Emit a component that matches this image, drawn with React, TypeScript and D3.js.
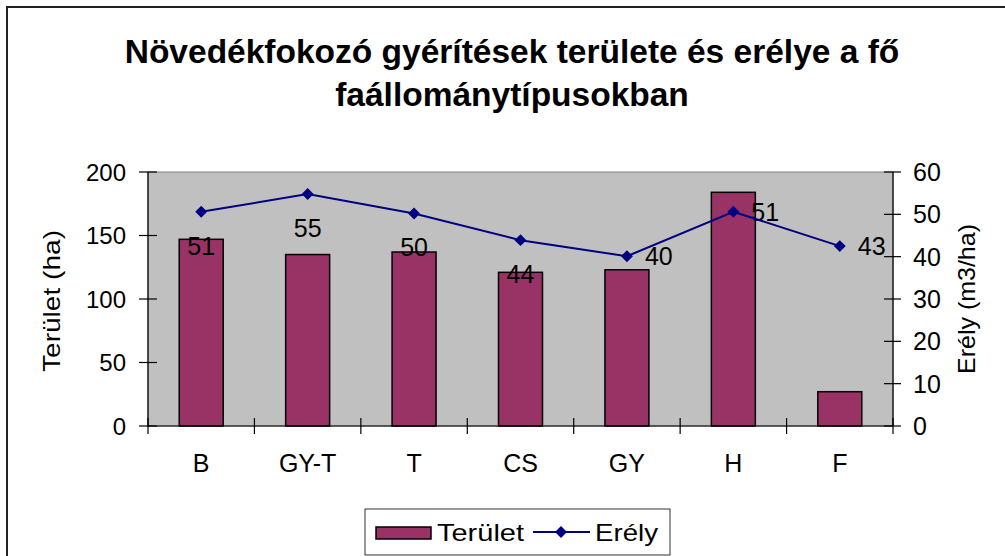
import * as d3 from "d3";
import { useEffect, useRef } from "react";

const categories = ["B", "GY-T", "T", "CS", "GY", "H", "F"];
const terulet = [147, 135, 137, 121, 123, 184, 27];
const erely = [50.6, 54.8, 50.2, 43.9, 40.1, 50.6, 42.5];
const leftTicks = [0, 50, 100, 150, 200];
const rightTicks = [0, 10, 20, 30, 40, 50, 60];
// where each data label sits relative to its marker
const labelPlace = ["below", "below", "below", "below", "right", "right", "right"];

const width = 1005;
const height = 556;
const plotLeft = 148;
const plotRight = 893;
const plotTop = 172;
const plotBottom = 426;
const font = "'Liberation Sans', Arial, sans-serif";

export default function App() {
  const ref = useRef<SVGSVGElement>(null);

  useEffect(() => {
    const svg = d3.select(ref.current);
    svg.selectAll("*").remove();

    const x = d3.scaleBand().domain(categories).range([plotLeft, plotRight]).padding(0);
    const yL = d3.scaleLinear().domain([0, 200]).range([plotBottom, plotTop]);
    const yR = d3.scaleLinear().domain([0, 60]).range([plotBottom, plotTop]);
    const barW = x.bandwidth() / 2.42;
    const cx = (c: string) => (x(c) as number) + x.bandwidth() / 2;

    // outer chart border
    svg
      .append("rect")
      .attr("x", 7)
      .attr("y", 7)
      .attr("width", width + 20)
      .attr("height", height + 20)
      .attr("fill", "white")
      .attr("stroke", "#222")
      .attr("stroke-width", 2);

    // title
    const title = svg
      .append("text")
      .attr("text-anchor", "middle")
      .attr("font-family", font)
      .attr("font-weight", "bold")
      .attr("font-size", 33.5);
    title.append("tspan").attr("x", 512).attr("y", 63).text("Növedékfokozó gyérítések területe és erélye a fő");
    title.append("tspan").attr("x", 512).attr("y", 106).text("faállománytípusokban");

    // plot area
    svg
      .append("rect")
      .attr("x", plotLeft)
      .attr("y", plotTop)
      .attr("width", plotRight - plotLeft)
      .attr("height", plotBottom - plotTop)
      .attr("fill", "#C0C0C0")
      .attr("stroke", "#808080")
      .attr("stroke-width", 1);

    // bars
    svg
      .selectAll(".bar")
      .data(terulet)
      .enter()
      .append("rect")
      .attr("class", "bar")
      .attr("x", (d, i) => cx(categories[i]) - barW / 2)
      .attr("y", (d) => yL(d))
      .attr("width", barW)
      .attr("height", (d) => plotBottom - yL(d))
      .attr("fill", "#993366")
      .attr("stroke", "black")
      .attr("stroke-width", 1.5);

    // axes
    const axisG = svg.append("g").attr("stroke", "black").attr("stroke-width", 1.2);
    axisG.append("line").attr("x1", plotLeft).attr("x2", plotLeft).attr("y1", plotTop).attr("y2", plotBottom);
    axisG.append("line").attr("x1", plotRight).attr("x2", plotRight).attr("y1", plotTop).attr("y2", plotBottom);
    axisG.append("line").attr("x1", plotLeft).attr("x2", plotRight).attr("y1", plotBottom).attr("y2", plotBottom);

    axisG
      .selectAll(".lt")
      .data(leftTicks)
      .enter()
      .append("line")
      .attr("x1", plotLeft - 9)
      .attr("x2", plotLeft + 9)
      .attr("y1", (d) => yL(d))
      .attr("y2", (d) => yL(d));
    axisG
      .selectAll(".rt")
      .data(rightTicks)
      .enter()
      .append("line")
      .attr("x1", plotRight - 9)
      .attr("x2", plotRight + 8)
      .attr("y1", (d) => yR(d))
      .attr("y2", (d) => yR(d));
    const catEdges = categories.map((c) => x(c) as number).concat([plotRight]);
    axisG
      .selectAll(".ct")
      .data(catEdges)
      .enter()
      .append("line")
      .attr("x1", (d) => d)
      .attr("x2", (d) => d)
      .attr("y1", plotBottom - 8)
      .attr("y2", plotBottom + 8);

    const labels = svg.append("g").attr("font-family", font).attr("font-size", 24).attr("fill", "black");
    labels
      .selectAll(".ll")
      .data(leftTicks)
      .enter()
      .append("text")
      .attr("x", 126)
      .attr("y", (d) => yL(d))
      .attr("dy", "0.36em")
      .attr("text-anchor", "end")
      .text((d) => d);
    labels
      .selectAll(".rl")
      .data(rightTicks)
      .enter()
      .append("text")
      .attr("x", 913)
      .attr("y", (d) => yR(d))
      .attr("dy", "0.36em")
      .attr("font-size", 25)
      .text((d) => d);
    labels
      .selectAll(".cl")
      .data(categories)
      .enter()
      .append("text")
      .attr("x", (d) => cx(d))
      .attr("y", 472)
      .attr("text-anchor", "middle")
      .attr("font-size", 25)
      .text((d) => d);

    labels
      .append("text")
      .attr("transform", "translate(60,301) rotate(-90)")
      .attr("text-anchor", "middle")
      .attr("textLength", 142)
      .attr("lengthAdjust", "spacingAndGlyphs")
      .text("Terület (ha)");
    labels
      .append("text")
      .attr("transform", "translate(975,299) rotate(-90)")
      .attr("text-anchor", "middle")
      .attr("textLength", 150)
      .attr("lengthAdjust", "spacingAndGlyphs")
      .text("Erély (m3/ha)");

    // line series
    const line = d3
      .line<number>()
      .x((d, i) => cx(categories[i]))
      .y((d) => yR(d));
    svg
      .append("path")
      .datum(erely)
      .attr("d", line)
      .attr("fill", "none")
      .attr("stroke", "#000080")
      .attr("stroke-width", 2);

    const diamond = d3.symbol().type(d3.symbolDiamond2).size(90);
    svg
      .selectAll(".mk")
      .data(erely)
      .enter()
      .append("path")
      .attr("transform", (d, i) => `translate(${cx(categories[i])},${yR(d)})`)
      .attr("d", diamond)
      .attr("fill", "#000080");

    labels
      .selectAll(".dl")
      .data(erely)
      .enter()
      .append("text")
      .attr("x", (d, i) => (labelPlace[i] === "right" ? cx(categories[i]) + 18 : cx(categories[i])))
      .attr("y", (d, i) => (labelPlace[i] === "right" ? yR(d) : yR(d) + 34))
      .attr("dy", "0.36em")
      .attr("font-size", 25)
      .attr("text-anchor", (d, i) => (labelPlace[i] === "right" ? "start" : "middle"))
      .text((d) => Math.round(d));

    // legend
    const lg = svg.append("g");
    lg.append("rect")
      .attr("x", 365)
      .attr("y", 509)
      .attr("width", 305)
      .attr("height", 46)
      .attr("fill", "white")
      .attr("stroke", "#333")
      .attr("stroke-width", 1);
    lg.append("rect")
      .attr("x", 376)
      .attr("y", 527)
      .attr("width", 55)
      .attr("height", 12)
      .attr("fill", "#993366")
      .attr("stroke", "black")
      .attr("stroke-width", 1.5);
    lg.append("text")
      .attr("x", 437)
      .attr("y", 541)
      .attr("font-family", font)
      .attr("font-size", 24)
      .attr("textLength", 87)
      .attr("lengthAdjust", "spacingAndGlyphs")
      .text("Terület");
    lg.append("line")
      .attr("x1", 533)
      .attr("x2", 590)
      .attr("y1", 532)
      .attr("y2", 532)
      .attr("stroke", "#000080")
      .attr("stroke-width", 2);
    lg.append("path")
      .attr("transform", "translate(561,532)")
      .attr("d", diamond)
      .attr("fill", "#000080");
    lg.append("text")
      .attr("x", 595)
      .attr("y", 541)
      .attr("font-family", font)
      .attr("font-size", 24)
      .attr("textLength", 63)
      .attr("lengthAdjust", "spacingAndGlyphs")
      .text("Erély");
  }, []);

  return (
    <svg
      ref={ref}
      width={width}
      height={height}
      style={{ position: "absolute", left: 0, top: 0, background: "white" }}
    ></svg>
  );
}
